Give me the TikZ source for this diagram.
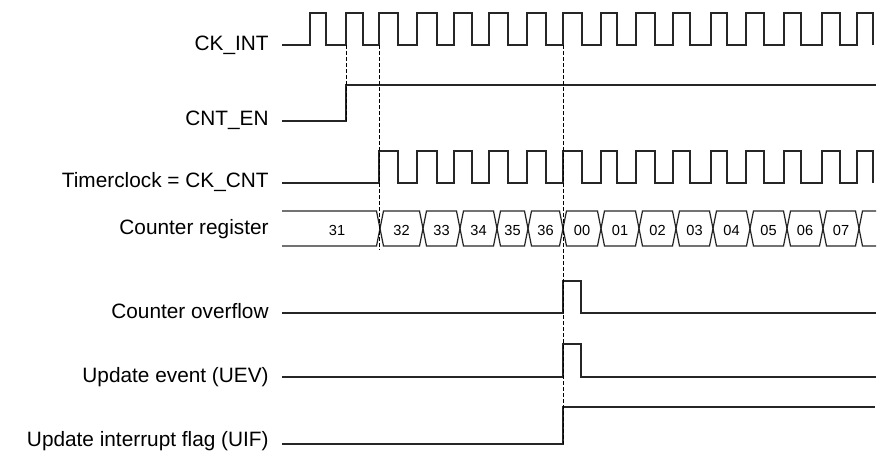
\documentclass[tikz,border=0pt]{standalone}
\usepackage{fontspec}
\setmainfont{Liberation Sans}
\usetikzlibrary{positioning}

\begin{document}
\begin{tikzpicture}[x=0.5bp, y=-0.5bp,
  sig/.style={line width=0.6bp, black!85},
  guide/.style={line width=0.5bp, dash pattern=on 2bp off 1bp},
  lbl/.style={anchor=base east, inner sep=0pt, font=\fontsize{10.4bp}{12bp}\selectfont},
  num/.style={inner sep=0pt, font=\fontsize{7.3bp}{9bp}\selectfont}]
\useasboundingbox (0,0) rectangle (896,461);

% labels
\node[lbl] (lckint) at (269, 51) {CK\_INT};
\node[lbl] (lcnten) at (269, 126) {CNT\_EN};
\node[lbl] (lckcnt) at (269, 188) {Timerclock = CK\_CNT};
\node[lbl] (lcnt) at (269, 235) {Counter register};
\node[lbl] (lovf) at (269, 319) {Counter overflow};
\node[lbl] (luev) at (269, 383) {Update event (UEV)};
\node[lbl] (luif) at (269, 447) {Update interrupt flag (UIF)};

% CK_INT
\draw[sig] (282,45) -| (310,13) -| (326,45) -| (346,13) -| (363,45) -| (379,13) -| (398,45)
  -| (417,13) -| (437,45) -| (454,13) -| (472,45) -| (489,13) -| (508,45) -| (527,13) -| (546,45)
  -| (563,13) -| (582,45) -| (601,13) -| (617,45) -| (636,13) -| (655,45) -| (673,13) -| (690,45)
  -| (711,13) -| (727,45) -| (746,13) -| (764,45) -| (784,13) -| (801,45) -| (822,13) -| (840,45)
  -| (857,13) -| (873,45);

% CNT_EN
\draw[sig] (282,121) -| (346,85) -- (876,85);

% timerclock
\draw[sig] (282,183) -| (379,151) -| (398,183) -| (417,151) -| (437,183) -| (454,151) -| (472,183)
  -| (489,151) -| (508,183) -| (527,151) -| (546,183) -| (563,151) -| (582,183) -| (601,151)
  -| (617,183) -| (636,151) -| (655,183) -| (673,151) -| (690,183) -| (711,151) -| (727,183)
  -| (746,151) -| (764,183) -| (784,151) -| (801,183) -| (822,151) -| (840,183) -| (857,151)
  -| (873,183);

% counter register
\draw[sig] (282,211) -- (376.5,211) -- (380,228.5) -- (376.5,246) -- (282,246);
\draw[sig] (380,228.5) -- (383.5,211) -- (419.5,211) -- (423,228.5) -- (419.5,246) -- (383.5,246) -- cycle;
\draw[sig] (423,228.5) -- (426.5,211) -- (456.5,211) -- (460,228.5) -- (456.5,246) -- (426.5,246) -- cycle;
\draw[sig] (460,228.5) -- (463.5,211) -- (493.5,211) -- (497,228.5) -- (493.5,246) -- (463.5,246) -- cycle;
\draw[sig] (497,228.5) -- (500.5,211) -- (524.5,211) -- (528,228.5) -- (524.5,246) -- (500.5,246) -- cycle;
\draw[sig] (528,228.5) -- (531.5,211) -- (559.5,211) -- (563,228.5) -- (559.5,246) -- (531.5,246) -- cycle;
  % after overflow
\draw[sig] (563,228.5) -- (566.5,211) -- (597.5,211) -- (601,228.5) -- (597.5,246) -- (566.5,246) -- cycle;
\draw[sig] (601,228.5) -- (604.5,211) -- (635.5,211) -- (639,228.5) -- (635.5,246) -- (604.5,246) -- cycle;
\draw[sig] (639,228.5) -- (642.5,211) -- (672.5,211) -- (676,228.5) -- (672.5,246) -- (642.5,246) -- cycle;
\draw[sig] (676,228.5) -- (679.5,211) -- (709.5,211) -- (713,228.5) -- (709.5,246) -- (679.5,246) -- cycle;
\draw[sig] (713,228.5) -- (716.5,211) -- (746.5,211) -- (750,228.5) -- (746.5,246) -- (716.5,246) -- cycle;
\draw[sig] (750,228.5) -- (753.5,211) -- (783.5,211) -- (787,228.5) -- (783.5,246) -- (753.5,246) -- cycle;
\draw[sig] (787,228.5) -- (790.5,211) -- (819.5,211) -- (823,228.5) -- (819.5,246) -- (790.5,246) -- cycle;
\draw[sig] (823,228.5) -- (826.5,211) -- (855.5,211) -- (859,228.5) -- (855.5,246) -- (826.5,246) -- cycle;
\draw[sig] (876,211) -- (862.5,211) -- (859,228.5) -- (862.5,246) -- (876,246);

\node[num] (c31) at (337, 230.5) {31};
\node[num] (c32) at (401.5, 230.5) {32};
\node[num] (c33) at (441.5, 230.5) {33};
\node[num] (c34) at (478.5, 230.5) {34};
\node[num] (c35) at (512.5, 230.5) {35};
\node[num] (c36) at (545.5, 230.5) {36};
\node[num] (c00) at (582, 230.5) {00};
\node[num] (c01) at (620, 230.5) {01};
\node[num] (c02) at (657.5, 230.5) {02};
\node[num] (c03) at (694.5, 230.5) {03};
\node[num] (c04) at (731.5, 230.5) {04};
\node[num] (c05) at (768.5, 230.5) {05};
\node[num] (c06) at (805, 230.5) {06};
\node[num] (c07) at (841, 230.5) {07};

% overflow, update event, flag
\draw[sig] (282,313) -| (563,281) -| (581,313) -- (876,313);
\draw[sig] (282,377) -| (563,344) -| (581,377) -- (876,377);
\draw[sig] (282,444) -| (563,407) -- (875,407);

% dashed guides
\draw[guide] (346,45) -- (346,121);
\draw[guide] (379.5,45) -- (379.5,250);
\draw[guide] (563,45) -- (563,444);

\end{tikzpicture}
\end{document}
